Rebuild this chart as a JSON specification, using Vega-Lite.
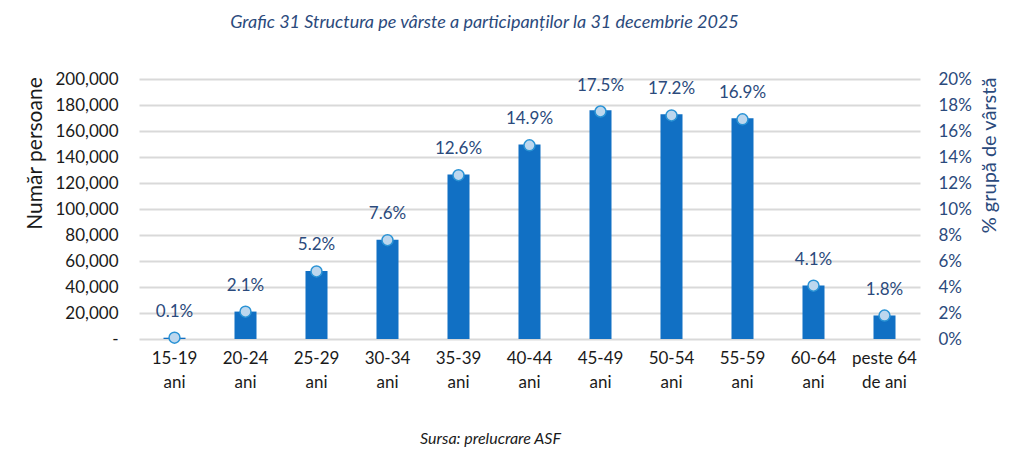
{
  "$schema": "https://vega.github.io/schema/vega-lite/v6.json",
  "width": 781,
  "height": 260,
  "autosize": {"type": "none"},
  "padding": {"left": 139, "top": 79, "right": 104, "bottom": 116},
  "background": "white",
  "config": {
    "view": {"stroke": null},
    "font": "Lato",
    "axis": {"labelFont": "Lato", "titleFont": "Lato", "titleFontWeight": "normal"}
  },
  "title": {
    "text": "Grafic 31 Structura pe vârste a participanților la 31 decembrie 2025",
    "font": "Lato",
    "fontSize": 18,
    "fontStyle": "italic",
    "fontWeight": "normal",
    "color": "#2B4A7C",
    "anchor": "middle",
    "dx": -45,
    "offset": 38
  },
  "data": {
    "values": [
      {"grupa": "15-19|ani", "persoane": 1000, "pondere": 0.001},
      {"grupa": "20-24|ani", "persoane": 21100, "pondere": 0.021},
      {"grupa": "25-29|ani", "persoane": 52300, "pondere": 0.052},
      {"grupa": "30-34|ani", "persoane": 76400, "pondere": 0.076},
      {"grupa": "35-39|ani", "persoane": 126600, "pondere": 0.126},
      {"grupa": "40-44|ani", "persoane": 149700, "pondere": 0.149},
      {"grupa": "45-49|ani", "persoane": 175900, "pondere": 0.175},
      {"grupa": "50-54|ani", "persoane": 172900, "pondere": 0.172},
      {"grupa": "55-59|ani", "persoane": 169800, "pondere": 0.169},
      {"grupa": "60-64|ani", "persoane": 41200, "pondere": 0.041},
      {"grupa": "peste 64|de ani", "persoane": 18100, "pondere": 0.018}
    ]
  },
  "encoding": {
    "x": {
      "field": "grupa",
      "type": "nominal",
      "sort": null,
      "scale": {"paddingInner": 0, "paddingOuter": 0},
      "axis": {
        "title": "Sursa: prelucrare ASF",
        "titleFontSize": 16,
        "titleFontStyle": "italic",
        "titleColor": "#1a1a1a",
        "titleX": 351,
        "titleY": 104,
        "titleBaseline": "alphabetic",
        "labelAngle": 0,
        "labelExpr": "split(datum.label, '|')",
        "labelFontSize": 17,
        "labelLineHeight": 24,
        "labelColor": "#1a1a1a",
        "labelPadding": 11,
        "domain": false,
        "ticks": false
      }
    }
  },
  "layer": [
    {
      "mark": {"type": "bar", "color": "#1170C4", "width": {"band": 0.31}},
      "encoding": {
        "y": {
          "field": "persoane",
          "type": "quantitative",
          "scale": {"domain": [0, 200000]},
          "axis": {
            "title": "Număr persoane",
            "titleFontSize": 21,
            "titleColor": "#1a1a1a",
            "titleAngle": -90,
            "titleAlign": "center",
            "titleBaseline": "middle",
            "titleX": -104,
            "titleY": 74,
            "values": [0, 20000, 40000, 60000, 80000, 100000, 120000, 140000, 160000, 180000, 200000],
            "labelExpr": "datum.value == 0 ? '-    ' : format(datum.value, ',')",
            "labelFontSize": 17,
            "labelColor": "#1a1a1a",
            "labelPadding": 21,
            "grid": true,
            "gridColor": "#D9D9D9",
            "gridWidth": 2,
            "domain": false,
            "ticks": false
          }
        }
      }
    },
    {
      "mark": {"type": "point", "shape": "circle", "filled": true, "size": 120, "fill": "#BDD7EE", "stroke": "#2A93D5", "strokeWidth": 1.5, "opacity": 1},
      "encoding": {
        "y": {
          "field": "pondere",
          "type": "quantitative",
          "scale": {"domain": [0, 0.2]},
          "axis": {
            "orient": "right",
            "title": "% grupă de vârstă",
            "titleFontSize": 20,
            "titleColor": "#2B4A7C",
            "titleAngle": -90,
            "titleAlign": "center",
            "titleBaseline": "middle",
            "titleX": 69,
            "titleY": 76,
            "values": [0, 0.02, 0.04, 0.06, 0.08, 0.1, 0.12, 0.14, 0.16, 0.18, 0.2],
            "format": ".0%",
            "labelFontSize": 17,
            "labelColor": "#2B4A7C",
            "labelPadding": 18,
            "grid": false,
            "domain": false,
            "ticks": false
          }
        }
      }
    },
    {
      "mark": {"type": "text", "fontSize": 17, "color": "#2B4A7C", "baseline": "alphabetic", "dy": -21},
      "encoding": {
        "y": {"field": "pondere", "type": "quantitative", "scale": {"domain": [0, 0.2]}, "axis": null},
        "text": {"field": "pondere", "type": "quantitative", "format": ".1%"}
      }
    }
  ],
  "resolve": {"scale": {"y": "independent"}}
}
